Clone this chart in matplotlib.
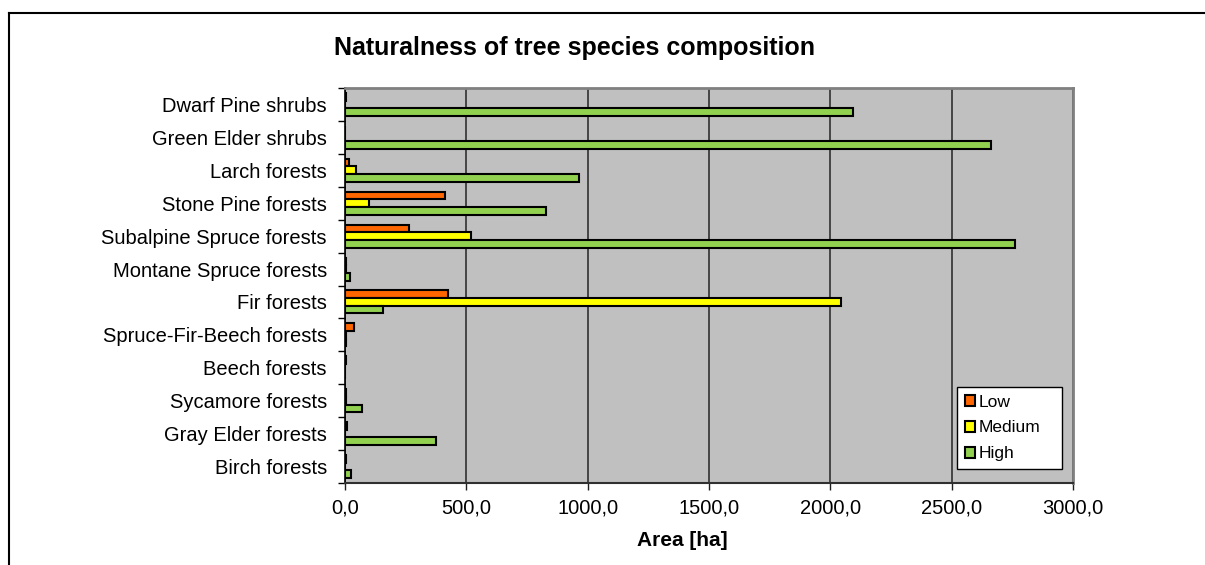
import numpy as np
import matplotlib.pyplot as plt
from matplotlib.patches import Patch
from matplotlib.lines import Line2D

plt.rcParams['font.family'] = ['Liberation Sans', 'DejaVu Sans']

# data (area in ha)
categories = ['Dwarf Pine shrubs', 'Green Elder shrubs', 'Larch forests',
              'Stone Pine forests', 'Subalpine Spruce forests',
              'Montane Spruce forests', 'Fir forests', 'Spruce-Fir-Beech forests',
              'Beech forests', 'Sycamore forests', 'Gray Elder forests',
              'Birch forests']
low = [5, 0, 16, 411, 264, 3, 423, 37, 3, 3, 8, 3]
medium = [0, 0, 45, 99, 519, 3, 2046, 3, 0, 3, 0, 0]
high = [2094, 2663, 966, 827, 2759, 21, 158, 3, 0, 71, 375, 25]
series_names = ['Low', 'Medium', 'High']
colors = ['#FF6600', '#FFFF00', '#92D050']
xticks = [0, 500, 1000, 1500, 2000, 2500, 3000]

fig = plt.figure(figsize=(12.05, 5.65), dpi=100)
ax = fig.add_axes([345/1205, 1-483/565, 728/1205, 395/565])
ax.set_facecolor('#C0C0C0')

y = np.arange(len(categories))
h = 0.233
for k, vals in enumerate([low, medium, high]):
    ax.barh(y + (k-1)*h, vals, height=h, color=colors[k], edgecolor='black',
            linewidth=1.5, zorder=3)

ax.set_xlim(0, 3000)
ax.set_ylim(len(categories)-0.5, -0.5)
ax.set_xticks(xticks)
ax.set_xticklabels(['%d,0' % v for v in xticks], fontsize=14.5)
ax.tick_params(axis='x', direction='out', length=5, width=1, pad=6, color='#202020')
ax.xaxis.grid(True, color='#303030', linewidth=1.2, zorder=1)

# category boundaries get the tick marks, labels sit in between
ax.set_yticks(np.arange(len(categories)+1) - 0.5)
ax.set_yticklabels([])
ax.set_yticks(y, minor=True)
ax.set_yticklabels(categories, minor=True, fontsize=14.5)
ax.tick_params(axis='y', which='major', direction='out', length=5, width=1)
ax.tick_params(axis='y', which='minor', length=0, pad=13)

for s in ['top', 'right']:
    ax.spines[s].set_color('#808080')
    ax.spines[s].set_linewidth(2)
ax.spines['left'].set_color('black')
ax.spines['bottom'].set_color('#303030')
ax.spines['left'].set_linewidth(1.2)
ax.spines['bottom'].set_linewidth(1.5)

ax.set_xlabel('Area [ha]', fontsize=15, fontweight='bold')
ax.xaxis.set_label_coords((682-345)/728, (483-540)/395)
ax.xaxis.label.set_va('center')

fig.text(575/1205, 1-48/565, 'Naturalness of tree species composition',
         ha='center', va='center', fontsize=18, fontweight='bold')

handles = [Patch(facecolor=c, edgecolor='black', linewidth=1.5) for c in colors]
leg = ax.legend(handles, series_names, loc='lower left', mode='expand',
                bbox_to_anchor=((957-345)/728, (483-469)/395, 105/728, 82/395),
                borderaxespad=0, fontsize=12.5, frameon=True, fancybox=False,
                handlelength=0.6, handleheight=0.6, handletextpad=0.2,
                labelspacing=0.62, borderpad=0.45)
leg.get_frame().set_edgecolor('black')
leg.get_frame().set_linewidth(1)
leg.get_frame().set_facecolor('white')
leg.get_frame().set_alpha(1)

# outer chart frame (only top and left visible)
fig.add_artist(Line2D([9.3/1205, 1], [1-12.7/565, 1-12.7/565], color='black',
                      linewidth=1.5, transform=fig.transFigure))
fig.add_artist(Line2D([9.3/1205, 9.3/1205], [0, 1-12.7/565], color='black',
                      linewidth=1.5, transform=fig.transFigure))

fig.savefig('out.png', dpi=100)
